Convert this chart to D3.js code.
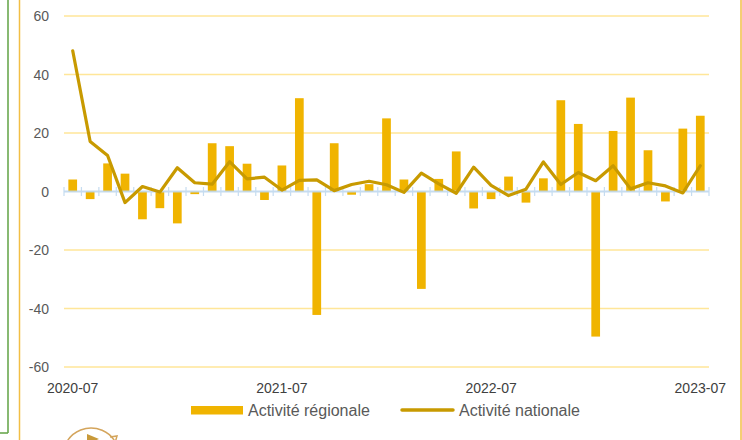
<!DOCTYPE html>
<html>
<head>
<meta charset="utf-8">
<script src="https://cdn.jsdelivr.net/npm/d3@7"></script>
<style>
  html, body { margin: 0; padding: 0; background: #ffffff; }
  svg { display: block; }
</style>
</head>
<body>
<svg id="chart" width="742" height="440"></svg>
<script>
const categories = [
  "2020-07","2020-08","2020-09","2020-10","2020-11","2020-12",
  "2021-01","2021-02","2021-03","2021-04","2021-05","2021-06",
  "2021-07","2021-08","2021-09","2021-10","2021-11","2021-12",
  "2022-01","2022-02","2022-03","2022-04","2022-05","2022-06",
  "2022-07","2022-08","2022-09","2022-10","2022-11","2022-12",
  "2023-01","2023-02","2023-03","2023-04","2023-05","2023-06",
  "2023-07"
];
const regionalValues = [
  4.1, -2.6, 9.6, 6.1, -9.5, -5.7, -10.9, -0.9, 16.5, 15.5, 9.5, -2.9,
  8.9, 31.9, -42.2, 16.5, -1.1, 2.5, 25.0, 4.1, -33.3, 4.3, 13.7, -5.8,
  -2.6, 5.1, -3.8, 4.5, 31.2, 23.1, -49.6, 20.7, 32.1, 14.1, -3.4, 21.5,
  25.9
];
const nationalValues = [
  48.1, 17.1, 12.3, -3.8, 1.7, -0.2, 8.1, 3.0, 2.5, 10.2, 4.3, 4.9,
  0.5, 3.8, 4.0, 0.3, 2.4, 3.5, 2.3, -0.3, 6.3, 2.6, -0.6, 8.3,
  2.1, -1.4, 0.8, 10.1, 2.4, 6.5, 3.7, 8.8, 0.9, 3.0, 1.9, -0.5,
  8.8
];
const xTickLabels = ["2020-07", "2021-07", "2022-07", "2023-07"];
const yTicks = [-60, -40, -20, 0, 20, 40, 60];
const seriesNames = ["Activité régionale", "Activité nationale"];

const svg = d3.select("#chart");
const barColor = "#F0B400";
const lineColor = "#C89A00";
const gridColor = "#FFE699";
const axisColor = "#BDD7EE";
const font = "'Liberation Sans', Arial, sans-serif";

// frame lines
svg.append("line").attr("x1", 8).attr("x2", 8).attr("y1", 0).attr("y2", 433)
  .attr("stroke", "#6AA84F").attr("stroke-width", 1.6);
svg.append("line").attr("x1", 0).attr("x2", 8).attr("y1", 433).attr("y2", 433)
  .attr("stroke", "#6AA84F").attr("stroke-width", 1.6);
svg.append("line").attr("x1", 19.5).attr("x2", 19.5).attr("y1", 0).attr("y2", 440)
  .attr("stroke", "#F2BE45").attr("stroke-width", 1.5);
svg.append("line").attr("x1", 741).attr("x2", 741).attr("y1", 0).attr("y2", 440)
  .attr("stroke", "#F2BE45").attr("stroke-width", 1.5);

const x = d3.scaleBand().domain(categories).range([64, 709])
  .paddingInner(0.5).paddingOuter(0.25);
const y = d3.scaleLinear().domain([-60, 60]).range([367, 16]);
const cx = c => x(c) + x.bandwidth() / 2;

// gridlines
svg.append("g").selectAll("line").data(yTicks.filter(t => t !== 0)).join("line")
  .attr("x1", 64).attr("x2", 709)
  .attr("y1", d => y(d)).attr("y2", d => y(d))
  .attr("stroke", gridColor).attr("stroke-width", 1.5);

// y labels
svg.append("g").selectAll("text").data(yTicks).join("text")
  .attr("x", 49).attr("y", d => y(d)).attr("dy", "0.36em")
  .attr("text-anchor", "end")
  .attr("font-family", font).attr("font-size", 14).attr("fill", "#595959")
  .text(d => d);

// bars
svg.append("g").selectAll("rect").data(categories).join("rect")
  .attr("x", d => x(d))
  .attr("width", x.bandwidth())
  .attr("y", (d, i) => y(Math.max(0, regionalValues[i])))
  .attr("height", (d, i) => Math.abs(y(regionalValues[i]) - y(0)))
  .attr("fill", barColor);

// zero axis with ticks at category boundaries
const gap = (x.step() - x.bandwidth()) / 2;
const boundaries = categories.map(c => x(c) - gap).concat([x(categories[categories.length - 1]) + x.bandwidth() + gap]);
const axisG = svg.append("g").attr("opacity", 0.85);
axisG.append("line").attr("x1", 64).attr("x2", 709).attr("y1", y(0)).attr("y2", y(0))
  .attr("stroke", axisColor).attr("stroke-width", 2);
axisG.selectAll("line.tick").data(boundaries).join("line").attr("class", "tick")
  .attr("x1", d => d).attr("x2", d => d)
  .attr("y1", y(0) - 4.5).attr("y2", y(0) + 4.5)
  .attr("stroke", axisColor).attr("stroke-width", 1.2);

// national line
const line = d3.line().x((d, i) => cx(categories[i])).y(d => y(d));
svg.append("path").datum(nationalValues)
  .attr("d", line)
  .attr("fill", "none").attr("stroke", lineColor)
  .attr("stroke-width", 3.2).attr("stroke-linejoin", "round").attr("stroke-linecap", "round");

// x labels
svg.append("g").selectAll("text").data(xTickLabels).join("text")
  .attr("x", d => cx(d)).attr("y", 393)
  .attr("text-anchor", "middle")
  .attr("font-family", font).attr("font-size", 14).attr("fill", "#404040")
  .text(d => d);

// legend
const lg = svg.append("g");
lg.append("rect").attr("x", 191).attr("y", 406).attr("width", 52).attr("height", 8.5).attr("fill", barColor);
lg.append("text").attr("x", 248).attr("y", 415.5)
  .attr("font-family", font).attr("font-size", 16).attr("fill", "#595959").text(seriesNames[0]);
lg.append("line").attr("x1", 402).attr("x2", 453).attr("y1", 410).attr("y2", 410)
  .attr("stroke", lineColor).attr("stroke-width", 3.5).attr("stroke-linecap", "round");
lg.append("text").attr("x", 459).attr("y", 415.5)
  .attr("font-family", font).attr("font-size", 16).attr("fill", "#595959").text(seriesNames[1]);

// partial logo at bottom-left
const logo = svg.append("g").attr("transform", "translate(91,456)");
logo.append("path")
  .attr("d", d3.arc()({innerRadius: 28, outerRadius: 28, startAngle: -Math.PI * 0.62, endAngle: Math.PI * 0.38}))
  .attr("fill", "none").attr("stroke", "#D4A55C").attr("stroke-width", 1.5);
logo.append("path")
  .attr("d", "M19,-19 L26,-20 L24,-13")
  .attr("fill", "none").attr("stroke", "#D4A55C").attr("stroke-width", 1.5);
logo.append("path")
  .attr("d", "M-4,-22 L8,-17 L-4,-12 Z")
  .attr("fill", "#C89A3A");
</script>
</body>
</html>
